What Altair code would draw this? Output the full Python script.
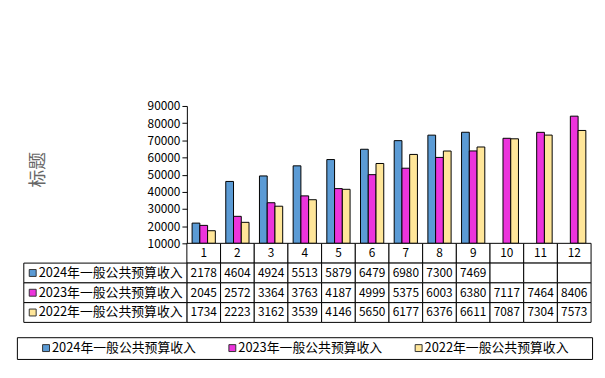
import altair as alt
import pandas as pd

FONT = "Noto Sans CJK SC"

months = [str(i) for i in range(1, 13)]
series = ["2024年一般公共预算收入", "2023年一般公共预算收入", "2022年一般公共预算收入"]
colors = ["#5B9BD5", "#EC34DC", "#FFE699"]
v2024 = [21780, 46040, 49240, 55130, 58790, 64790, 69800, 73000, 74690, None, None, None]
v2023 = [20450, 25720, 33640, 37630, 41870, 49990, 53750, 60030, 63800, 71170, 74640, 84060]
v2022 = [17340, 22230, 31620, 35390, 41460, 56500, 61770, 63760, 66110, 70870, 73040, 75730]
y_ticks = [10000, 20000, 30000, 40000, 50000, 60000, 70000, 80000, 90000]
y_title = "标题"

rows = []
for s, vals in zip(series, [v2024, v2023, v2022]):
    for m, v in zip(months, vals):
        rows.append({"month": m, "series": s, "value": v,
                     "label": "" if v is None else str(v)[:4]})
df = pd.DataFrame(rows)
bar_df = df.dropna(subset=["value"])

color_scale = alt.Scale(domain=series, range=colors)
W = 582

# ---------- bars ----------
bars = alt.Chart(bar_df).mark_bar(stroke="black", strokeWidth=1).encode(
    x=alt.X("month:N", sort=months,
            scale=alt.Scale(domain=months, range=[172, 581], paddingInner=0.31, paddingOuter=0.155),
            axis=None),
    xOffset=alt.XOffset("series:N", sort=series,
                        scale=alt.Scale(domain=series, paddingInner=0, paddingOuter=0)),
    y=alt.Y("value:Q",
            scale=alt.Scale(domain=[10000, 90000], zero=False, nice=False),
            axis=alt.Axis(values=y_ticks, title=y_title, offset=-172, grid=False,
                          domainColor="black", tickColor="black", tickSize=5, labelPadding=2,
                          labelFont=FONT, labelFontSize=12, labelColor="black", labelFlush=False,
                          format="d", titleFont=FONT, titleFontSize=18, titleFontWeight="normal",
                          titleColor="#666666", titleX=-150, titleY=64, titleAngle=270,
                          titleAlign="center", titleBaseline="middle")),
    y2=alt.datum(10000),
    color=alt.Color("series:N", scale=color_scale, legend=None),
).properties(width=W, height=139)

# ---------- data table ----------
table_rows = ["header"] + series
hdr = pd.DataFrame({"month": months, "row": "header", "label": months})
cells = pd.concat([hdr, df[["month", "series", "label"]].rename(columns={"series": "row"})],
                  ignore_index=True)
y_tab = alt.Y("row:N", sort=table_rows,
              scale=alt.Scale(domain=table_rows, paddingInner=0, paddingOuter=0), axis=None)
x_tab = alt.X("month:N", sort=months,
              scale=alt.Scale(domain=months, range=[172, 581], paddingInner=0, paddingOuter=0),
              axis=None)
cell_rect = alt.Chart(cells).mark_rect(fill="white", stroke="black", strokeWidth=1).encode(
    x=x_tab, y=y_tab)
cell_text = alt.Chart(cells).mark_text(font=FONT, fontSize=12, color="black").encode(
    x=x_tab, y=y_tab, text="label:N")

lab_df = pd.DataFrame({"row": series, "col": "label"})
lab_scale = alt.Scale(domain=["label"], range=[7, 172], paddingInner=0, paddingOuter=0)
lab_pt = alt.Scale(type="point", domain=["label"], range=[16, 16], padding=0)
lab_rect = alt.Chart(lab_df).mark_rect(fill="white", stroke="black", strokeWidth=1).encode(
    x=alt.X("col:N", scale=lab_scale, axis=None), y=y_tab)
lab_sw = alt.Chart(lab_df).mark_square(size=49, opacity=1, stroke="#333333", strokeWidth=1).encode(
    x=alt.X("col:N", scale=lab_pt, axis=None), y=y_tab,
    color=alt.Color("row:N", scale=color_scale, legend=None))
lab_text = alt.Chart(lab_df).mark_text(font=FONT, fontSize=13, color="black", align="left",
                                        xOffset=6).encode(
    x=alt.X("col:N", scale=lab_pt, axis=None), y=y_tab, text="row:N")

table = alt.layer(cell_rect, cell_text, lab_rect, lab_sw, lab_text).resolve_scale(
    x="independent").properties(width=W, height=80)

# ---------- legend ----------
leg_df = pd.DataFrame({"series": series})
x_leg = alt.X("series:N", sort=series,
              scale=alt.Scale(type="point", domain=series, range=[29.5, 406.5], padding=0),
              axis=None)
leg_sw = alt.Chart(leg_df).mark_square(size=49, opacity=1, stroke="#333333", strokeWidth=1).encode(
    x=x_leg, color=alt.Color("series:N", scale=color_scale, legend=None))
leg_text = alt.Chart(leg_df).mark_text(font=FONT, fontSize=13, color="black", align="left",
                                        xOffset=6).encode(x=x_leg, text="series:N")
legend = alt.layer(leg_sw, leg_text).properties(
    width=W, height=22, view=alt.ViewBackground(stroke="black", strokeWidth=1))

top = alt.vconcat(bars, table, spacing=0, bounds="flush")
chart = alt.vconcat(top, legend, spacing=13).properties(
    padding={"left": 8, "top": 90, "right": 4, "bottom": 4}
).configure_view(stroke="transparent")

chart.save("out.html", embed_options={"renderer": "svg", "actions": False})
